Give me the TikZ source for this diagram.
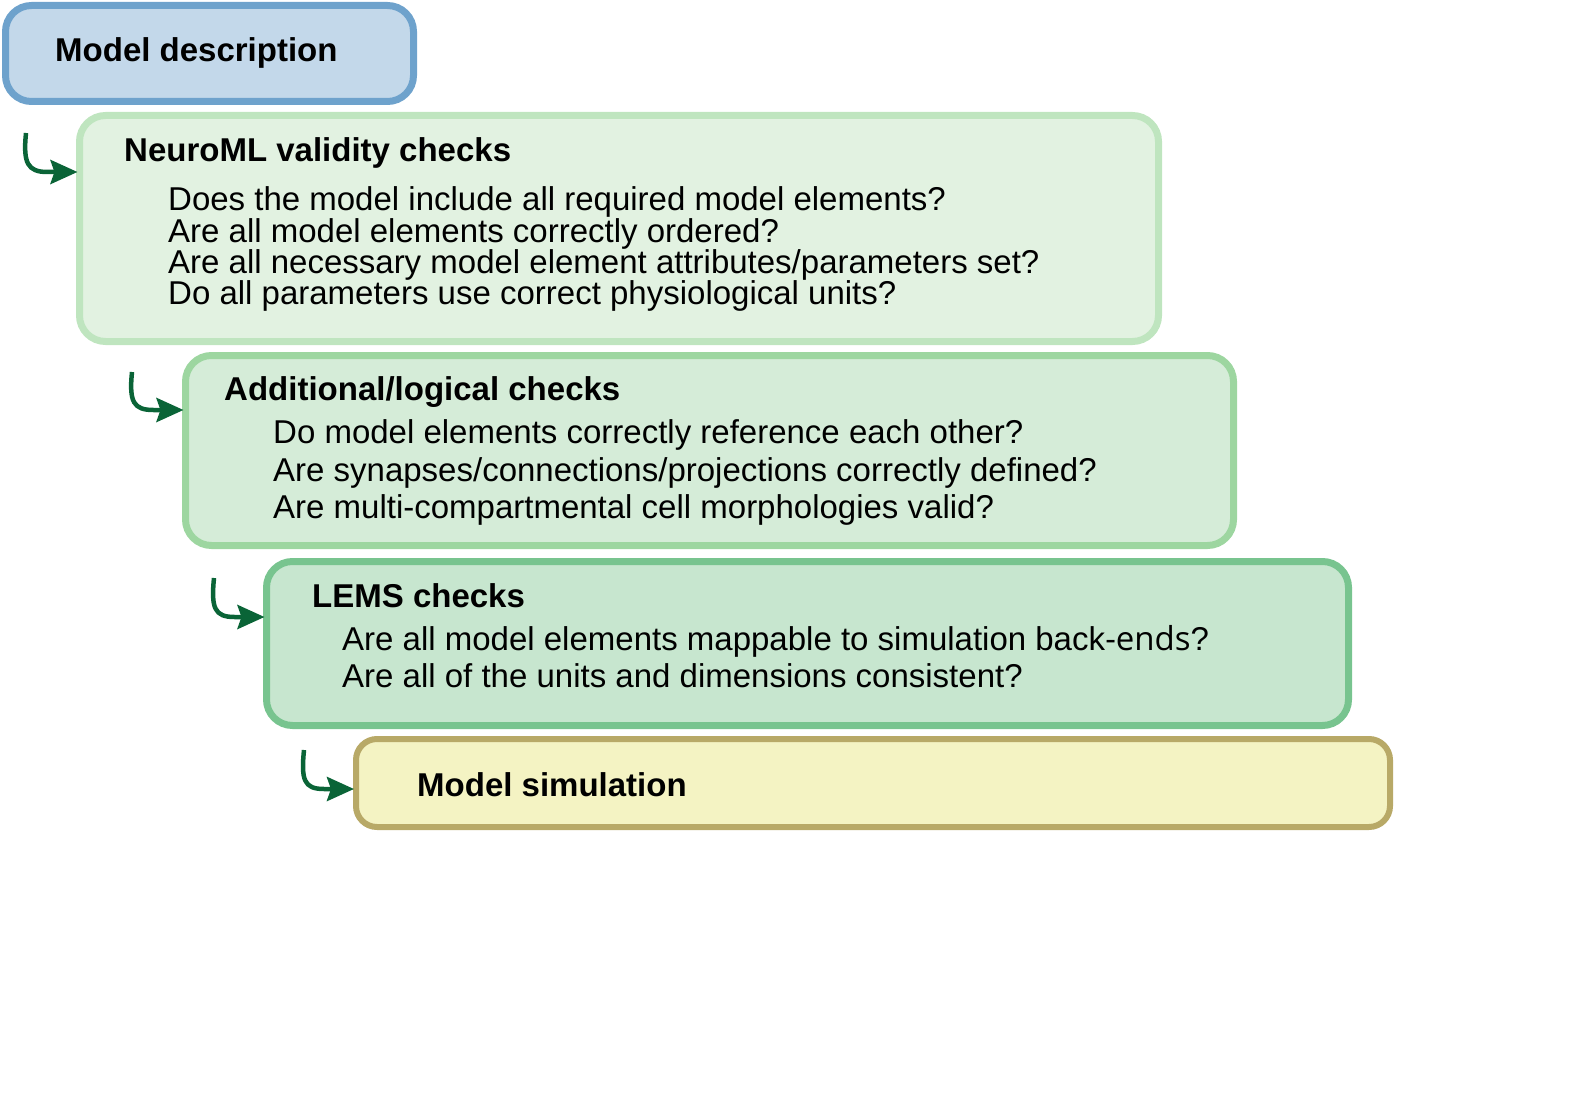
\documentclass[tikz,border=0pt]{standalone}
\usepackage{fontspec}
\setmainfont{Liberation Sans}
\newfontfamily\altfont{Open Sans}
\usetikzlibrary{arrows.meta,calc}
\definecolor{bluefill}{HTML}{C3D8EA}
\definecolor{blueline}{HTML}{6EA2CC}
\definecolor{gafill}{HTML}{E2F2E1}
\definecolor{galine}{HTML}{BFE5BF}
\definecolor{gbfill}{HTML}{D5ECD8}
\definecolor{gbline}{HTML}{9DD6A0}
\definecolor{gcfill}{HTML}{C7E6CF}
\definecolor{gcline}{HTML}{78C48F}
\definecolor{yfill}{HTML}{F4F3C3}
\definecolor{yline}{HTML}{B8A967}
\definecolor{arrowgreen}{HTML}{0A6437}
\tikzset{
  panel/.style={draw, rectangle, rounded corners=26pt, line width=7pt, outer sep=0pt, inner sep=0pt, anchor=north west},
  title/.style={anchor=base west, inner sep=0pt, font=\fontsize{33}{31}\selectfont\bfseries},
  bodyline/.style={anchor=base west, inner sep=0pt, font=\fontsize{33}{31}\selectfont},
  flowarrow/.style={draw=arrowgreen, line width=4.5pt, -{Stealth[length=27pt 0,width=24pt 0,inset=4pt 0]}, shorten >=2pt}
}
\begin{document}
\begin{tikzpicture}[x=1pt,y=-1pt]
\useasboundingbox (0,0) rectangle (1591,1105);
% panels
\node[panel, fill=bluefill, draw=blueline, minimum width=408pt, minimum height=96pt] (b1) at (5.5,5.5) {};
\node[panel, fill=gafill, draw=galine, minimum width=1079pt, minimum height=226pt] (b2) at (79.5,115.5) {};
\node[panel, fill=gbfill, draw=gbline, minimum width=1048pt, minimum height=190pt] (b3) at (185.5,355.5) {};
\node[panel, fill=gcfill, draw=gcline, minimum width=1082pt, minimum height=164pt] (b4) at (266.5,561.5) {};
\node[panel, fill=yfill, draw=yline, line width=6pt, rounded corners=21pt, minimum width=1034pt, minimum height=88pt] (b5) at (356,739) {};
% texts
\node[title] (t1) at (55,62) {Model description};
\node[title] (t2) at (124,161) {NeuroML validity checks};
\node[bodyline] (l21) at (168,211) {Does the model include all required model elements?};
\node[bodyline] (l22) at (168,242) {Are all model elements correctly ordered?};
\node[bodyline] (l23) at (168,273) {Are all necessary model element attributes/parameters set?};
\node[bodyline] (l24) at (168,304) {Do all parameters use correct physiological units?};
\node[title] (t3) at (224,400) {Additional/logical checks};
\node[bodyline] (l31) at (273,443) {Do model elements correctly reference each other?};
\node[bodyline] (l32) at (273,481) {Are synapses/connections/projections correctly defined?};
\node[bodyline] (l33) at (273,518) {Are multi-compartmental cell morphologies valid?};
\node[title] (t4) at (312,607) {LEMS checks};
\node[bodyline] (l41) at (342,650) {Are all model elements mappable to simulation back{\altfont -ends}?};
\node[bodyline] (l42) at (342,687) {Are all of the units and dimensions consistent?};
\node[title] (t5) at (417,796) {Model simulation};
% arrows
\coordinate (s1) at (26,133);
\coordinate (e1) at (b2.west |- 0,172);
\coordinate (s2) at (132,372);
\coordinate (e2) at (b3.west |- 0,410);
\coordinate (s3) at (214,578);
\coordinate (e3) at (b4.west |- 0,617);
\coordinate (s4) at (304,750);
\coordinate (e4) at (b5.west |- 0,789);
\foreach \i in {1,2,3,4}{
  \draw[flowarrow] (s\i) .. controls ($(s\i)+(-3,30)$) and ($(e\i)+(-52,0)$) .. ($(e\i)+(-32,0)$) -- (e\i);
}
\end{tikzpicture}
\end{document}
